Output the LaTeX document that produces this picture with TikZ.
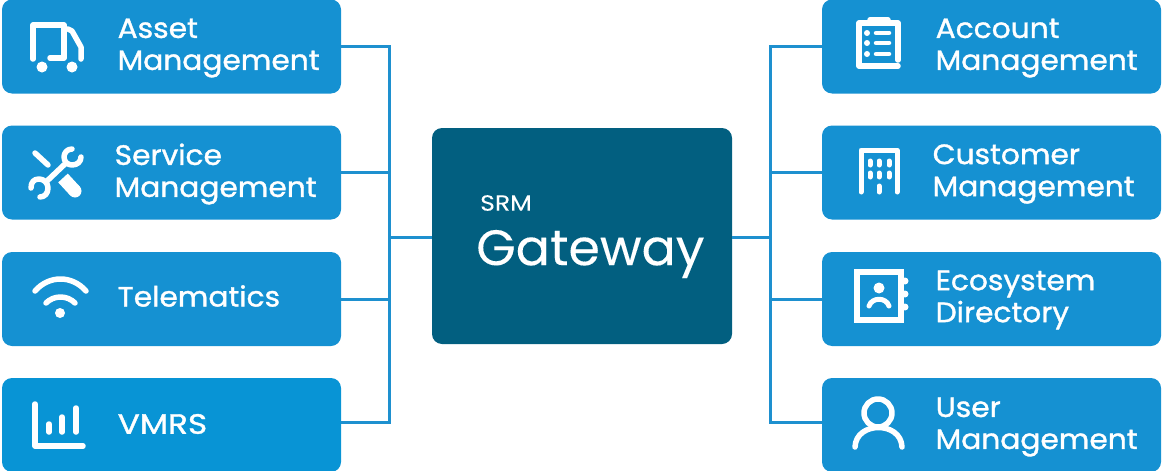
\documentclass[tikz,border=0pt]{standalone}
\usepackage{fontspec}
\setmainfont[FakeStretch=1.06,FakeBold=1.2]{Poppins}
\newfontfamily\gatewayfont[FakeStretch=1.015,FakeBold=0.1]{Poppins}
\usetikzlibrary{arrows.meta, positioning, fit}

\definecolor{boxblue}{HTML}{1591D2}
\definecolor{vmrsblue}{HTML}{0894D5}
\definecolor{gatewayblue}{HTML}{025F80}
\definecolor{linkblue}{HTML}{1E90CF}

\begin{document}
\begin{tikzpicture}[
                x=1pt, y=-1pt,
                box/.style={fill=boxblue, minimum width=339pt, minimum height=94pt, rounded corners=10pt, inner sep=0pt},
                caption/.style={anchor=west, text=white, align=left, inner sep=0pt, font=\fontsize{28}{32}\selectfont},
                link/.style={draw=linkblue, line width=3pt},
                icon/.style={draw=white, line width=5.5pt, line cap=round, line join=round},
                dot/.style={fill=white}
            ]
            \useasboundingbox (0, 0) rectangle (1162, 471);

            % Center
            \node[fill=gatewayblue, minimum width=300pt, minimum height=216pt, rounded corners=10pt] (gateway) at (582, 236) {};
            \node[anchor=west, text=white, inner sep=0pt, font=\gatewayfont\fontsize{22}{24}\selectfont] (srm) at (480, 203) {\addfontfeature{FakeStretch=1.14}SRM};
            \node[anchor=west, text=white, inner sep=0pt, font=\gatewayfont\fontsize{50}{56}\selectfont] (gatewaytext) at (476, 254) {Gateway};

            % Left boxes
            \node[box] (asset) at (171.5, 46.5) {};
            \node[box] (service) at (171.5, 172.5) {};
            \node[box] (telematics) at (171.5, 299) {};
            \node[box, fill=vmrsblue] (vmrs) at (171.5, 425) {};

            % Right boxes
            \node[box] (account) at (991.5, 46.5) {};
            \node[box] (customer) at (991.5, 172.5) {};
            \node[box] (ecosystem) at (991.5, 299) {};
            \node[box] (user) at (991.5, 425) {};

            % Captions
            \node[caption] (assettext) at (117.5, 48) {Asset\\Management};
            \node[caption] (servicetext) at (114.5, 174) {Service\\Management};
            \node[caption] (telematicstext) at (117.5, 296) {Telematics};
            \node[caption] (vmrstext) at (117.5, 424) {\addfontfeature{FakeStretch=1.17}VMRS};
            \node[caption] (accounttext) at (935.5, 48) {Account\\Management};
            \node[caption] (customertext) at (932.5, 174) {Customer\\Management};
            \node[caption] (ecosystemtext) at (935.5, 300) {Ecosystem\\Directory};
            \node[caption] (usertext) at (935.5, 427) {User\\Management};

            % Connectors
            \coordinate (leftbus) at (389, 237);
            \coordinate (rightbus) at (770, 237);
            \draw[link] (gateway.west |- leftbus) -- (leftbus);
            \draw[link] ([yshift=0.5pt]asset.east) -| (leftbus);
            \draw[link] ([yshift=3pt]vmrs.east) -| (leftbus);
            \draw[link] (service.east) -- (service.east -| leftbus);
            \draw[link] (telematics.east) -- (telematics.east -| leftbus);
            \draw[link] (gateway.east |- rightbus) -- (rightbus);
            \draw[link] ([yshift=0.5pt]account.west) -| (rightbus);
            \draw[link] ([yshift=3pt]user.west) -| (rightbus);
            \draw[link] (customer.west) -- (customer.west -| rightbus);
            \draw[link] (ecosystem.west) -- (ecosystem.west -| rightbus);

            % Truck
            \draw[icon] (33, 59) -- (33, 25) -- (64, 25) -- (64, 58) -- (50, 58);
            \draw[icon] (68, 29) -- (72, 31) -- (81, 47) -- (81, 59);
            \fill[dot] (42, 67) circle (5.5);
            \fill[dot] (72, 67) circle (5.5);

            % Tools
            \draw[icon] (35, 153) -- (48, 165);
            \draw[icon] (66, 163) -- (47, 181);
            \draw[icon] (72, 149) .. controls (67, 149) and (64, 153) .. (64, 157) .. controls (64, 162) and (68, 165) .. (72, 165) .. controls (77, 165) and (81, 162) .. (81, 157);
            \draw[icon] (31, 188) .. controls (31, 182) and (34, 179) .. (39, 179) .. controls (44, 179) and (48, 183) .. (48, 188) .. controls (48, 193) and (45, 197) .. (40, 197);
            \draw[icon, line width=13pt, line cap=butt] (63, 178) -- (75, 191);
            \fill[dot] (75, 191) circle (6.5);

            % Wifi
            \fill[dot] (60, 313) circle (5);
            \draw[icon] (46, 303) .. controls (54, 295) and (67, 295) .. (75, 303);
            \draw[icon] (35, 291) .. controls (49, 275) and (72, 275) .. (86, 291);

            % Chart
            \draw[icon] (35, 404) -- (35, 446) -- (83, 446);
            \draw[icon] (49, 424) -- (49, 432);
            \draw[icon] (62, 417) -- (62, 432);
            \draw[icon] (76, 408) -- (76, 432);

            % Clipboard
            \draw[icon] (898, 60) -- (898, 23) -- (859, 23) -- (859, 66) -- (898, 66);
            \draw[icon] (870, 20) -- (888, 20);
            \foreach \rowy in {33, 43, 54} {
                \fill[dot] (867, \rowy) circle (3);
                \draw[icon, line width=4.5pt] (876, \rowy) -- (889, \rowy);
            }

            % Building
            \draw[icon, line width=5pt] (861, 192) -- (861, 150) -- (897, 150) -- (897, 192);
            \foreach \colx in {870, 879, 889} {
                \draw[icon, line width=5pt] (\colx, 161) -- (\colx, 165);
                \draw[icon, line width=5pt] (\colx, 173) -- (\colx, 177);
            }
            \draw[icon, line width=5pt] (879, 186) -- (879, 192);

            % Directory
            \draw[icon, line cap=butt, line join=miter] (901, 320) -- (857, 320) -- (857, 272) -- (901, 272) -- cycle;
            \fill[dot] (905, 281) circle (3.5);
            \fill[dot] (905, 294) circle (3.5);
            \fill[dot] (905, 307) circle (3.5);
            \fill[dot] (879, 288) circle (5.5);
            \draw[icon, line width=5pt] (869, 306) .. controls (872, 297) and (886, 297) .. (889, 306);

            % Person
            \draw[icon, line cap=butt] (878, 413) circle (14);
            \draw[icon] (855, 447) .. controls (856, 421) and (901, 421) .. (902, 447);
            \end{tikzpicture}
\end{document}
